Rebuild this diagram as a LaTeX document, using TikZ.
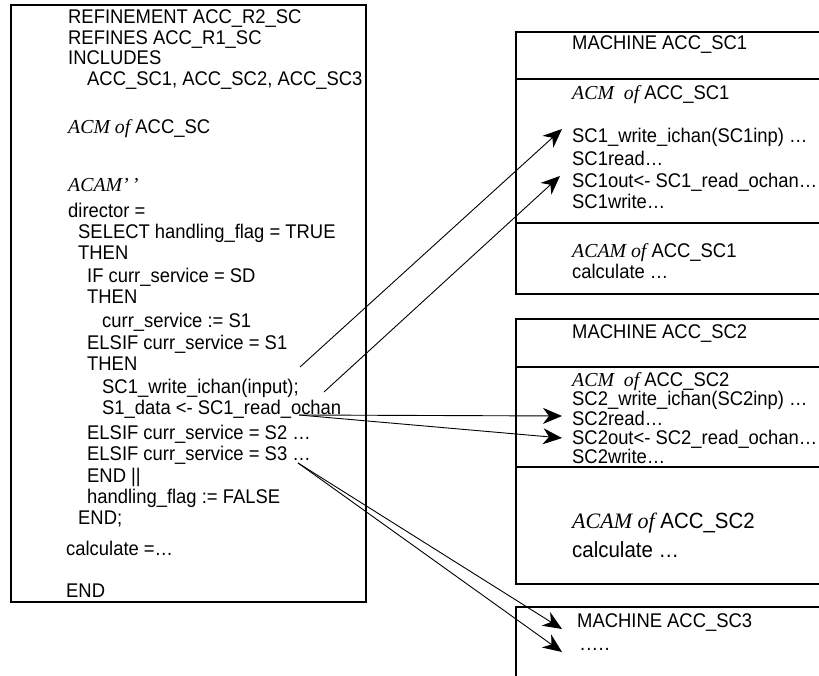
\documentclass[tikz,border=0pt]{standalone}
\usepackage{fontspec}
\setmainfont{Liberation Sans}[FakeStretch=0.93]
\newfontfamily\tms{Liberation Serif}
\usetikzlibrary{arrows.meta}
\tikzset{
  txt/.style={anchor=base west, inner sep=0pt, font=\fontsize{19.8}{22}\selectfont},
  bigtxt/.style={anchor=base west, inner sep=0pt, font=\fontsize{22}{25}\selectfont},
  frame/.style={line width=1.4pt},
  lframe/.style={line width=1.8pt},
  link/.style={line width=0.9pt, -{Stealth[length=19pt,width=16pt,inset=6pt]}}
}
\newcommand\itx[1]{{\tms\itshape #1}}
\begin{document}
\begin{tikzpicture}[x=1pt,y=-1pt]
\useasboundingbox (0,0) rectangle (819,676);
% left box
\draw[lframe] (11,5) rectangle (366,602);
\node[txt] (l1) at (68,24) {REFINEMENT ACC\_R2\_SC};
\node[txt] (l2) at (68,44.5) {REFINES ACC\_R1\_SC};
\node[txt] (l3) at (68,65) {INCLUDES};
\node[txt] (l4) at (87,86) {ACC\_SC1, ACC\_SC2, ACC\_SC3};
\node[txt] (l5) at (68,134) {\itx{ACM of} ACC\_SC};
\node[txt] (l6) at (68,192) {\itx{ACAM’\,’}};
\node[txt] (l7) at (68,218) {director =};
\node[txt] (l8) at (78,239) {SELECT handling\_flag = TRUE};
\node[txt] (l9) at (78,260) {THEN};
\node[txt] (l10) at (87,283) {IF curr\_service = SD};
\node[txt] (l11) at (87,304) {THEN};
\node[txt] (l12) at (102,327) {curr\_service := S1};
\node[txt] (l13) at (87,349) {ELSIF curr\_service = S1};
\node[txt] (l14) at (87,370) {THEN};
\node[txt] (l15) at (102,393) {SC1\_write\_ichan(input);};
\node[txt] (l16) at (102,414) {S1\_data <- SC1\_read\_ochan};
\node[txt] (l17) at (87,439) {ELSIF curr\_service = S2 …};
\node[txt] (l18) at (87,460) {ELSIF curr\_service = S3 …};
\node[txt] (l19) at (87,482) {END ||};
\node[txt] (l20) at (87,503) {handling\_flag := FALSE};
\node[txt] (l21) at (78,524) {END;};
\node[txt] (l22) at (66,555) {calculate =…};
\node[txt] (l23) at (66,597.5) {END};
% SC1 box
\draw[frame] (819,32) -- (516,32) -- (516,294) -- (819,294);
\draw[frame] (516,79) -- (819,79);
\draw[frame] (516,223) -- (819,223);
\node[txt] (m1) at (572,50) {MACHINE ACC\_SC1};
\node[txt] (m2) at (572,100) {\itx{ACM\ \ of} ACC\_SC1};
\node[txt] (m3) at (572,143) {SC1\_write\_ichan(SC1inp) …};
\node[txt] (m4) at (572,166) {SC1read…};
\node[txt] (m5) at (572,188) {SC1out<- SC1\_read\_ochan…};
\node[txt] (m6) at (572,209) {SC1write…};
\node[txt] (m7) at (572,258) {\itx{ACAM of} ACC\_SC1};
\node[txt] (m8) at (572,279) {calculate …};
% SC2 box
\draw[frame] (819,319) -- (516,319) -- (516,584) -- (819,584);
\draw[frame] (516,367) -- (819,367);
\draw[frame] (516,467) -- (819,467);
\node[txt] (n1) at (572,338) {MACHINE ACC\_SC2};
\node[txt] (n2) at (572,386.5) {\itx{ACM\ \ of} ACC\_SC2};
\node[txt] (n3) at (572,405) {SC2\_write\_ichan(SC2inp) …};
\node[txt] (n4) at (572,425) {SC2read…};
\node[txt] (n5) at (572,444) {SC2out<- SC2\_read\_ochan…};
\node[txt] (n6) at (572,463) {SC2write…};
\node[bigtxt] (n7) at (572,528.5) {\itx{ACAM of} ACC\_SC2};
\node[bigtxt] (n8) at (572,557.5) {calculate …};
% SC3 box
\draw[frame] (819,607) -- (516,607) -- (516,676);
\node[txt] (k1) at (577,627) {MACHINE ACC\_SC3};
\node[txt] (k2) at (580,650) {.\kern1pt.\kern1pt.\kern1pt.\kern1pt.};
% connector ends
\coordinate (s1) at (300,367);
\coordinate (s2) at (324,392);
\coordinate (s3) at (299,415);
\coordinate (s5) at (298,463);
\coordinate (e1) at (562,129);
\coordinate (e2) at (560,176);
\coordinate (e3) at (562,416);
\coordinate (e4) at (562,438);
\coordinate (e5) at (562,629);
\coordinate (e6) at (562,652);
\draw[link] (s1) -- (e1);
\draw[link] (s2) -- (e2);
\draw[link] (s3) -- (e3);
\draw[link] (s3) -- (e4);
\draw[link] (s5) -- (e5);
\draw[link] (s5) -- (e6);
\end{tikzpicture}
\end{document}
